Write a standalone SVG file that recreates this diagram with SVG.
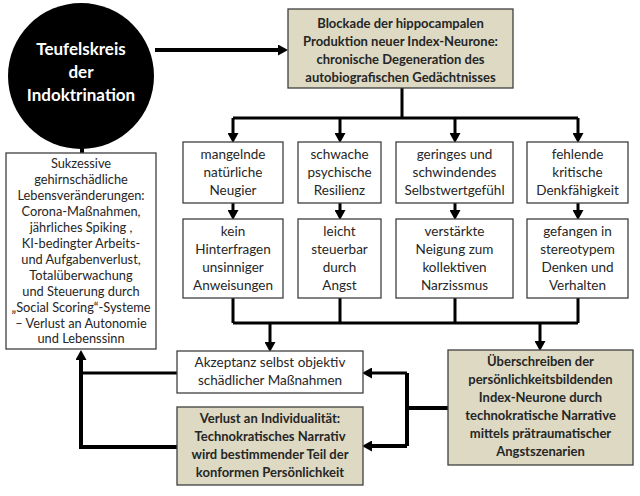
<svg xmlns="http://www.w3.org/2000/svg" width="640" height="496" viewBox="0 0 640 496">
<style>
.box{fill:#ffffff;stroke:#3f3f3f;stroke-width:1.3}
.tan{fill:#ddd9c3;stroke:#3f3f3f;stroke-width:1.3}
.t{font-family:Lato,"Liberation Sans",sans-serif;font-size:13.5px;fill:#262626;text-anchor:middle}
.s{font-size:12.8px}
.b{font-family:Lato,"Liberation Sans",sans-serif;font-size:13px;font-weight:bold;fill:#262626;text-anchor:middle}
.w{font-family:Lato,"Liberation Sans",sans-serif;font-size:17px;font-weight:bold;fill:#ffffff;text-anchor:middle}
.c{fill:none;stroke:#000;stroke-width:3}
.k{fill:none;stroke:#000;stroke-width:4}
</style>
<defs>
<marker id="ah" markerUnits="userSpaceOnUse" markerWidth="10" markerHeight="11" viewBox="0 0 10 11" refX="0" refY="5.5" orient="auto"><path d="M0,0 L10,5.5 L0,11 z" fill="#000"/></marker>
</defs>
<rect width="640" height="496" fill="#ffffff"/>
<g id="connectors">
<path class="k" d="M155,50 H278" marker-end="url(#ah)"/>
<path class="c" d="M402,88 V118 M233,118 H578"/>
<path class="c" d="M233,118 V133" marker-end="url(#ah)"/>
<path class="c" d="M340,118 V133" marker-end="url(#ah)"/>
<path class="c" d="M455,118 V133" marker-end="url(#ah)"/>
<path class="c" d="M578,118 V133" marker-end="url(#ah)"/>
<path class="c" d="M233,203 V210" marker-end="url(#ah)"/>
<path class="c" d="M340,203 V210" marker-end="url(#ah)"/>
<path class="c" d="M455,203 V210" marker-end="url(#ah)"/>
<path class="c" d="M578,203 V210" marker-end="url(#ah)"/>
<path class="c" d="M233,298 V323 M340,298 V323 M455,298 V323 M578,298 V323 M233,323 H578"/>
<path class="c" d="M270,323 V342" marker-end="url(#ah)"/>
<path class="c" d="M540,323 V341" marker-end="url(#ah)"/>
<path class="k" d="M448,408 H407 M407,373 V446"/>
<path class="c" d="M407,373 H372" marker-end="url(#ah)"/>
<path class="k" d="M407,446 H372" marker-end="url(#ah)"/>
<path class="c" d="M177,373 H81"/>
<path class="k" d="M177,447 H81 V360" marker-end="url(#ah)"/>
<path class="k" d="M82,140 V153"/>
</g>
<g id="circle">
<circle cx="81" cy="76" r="73" fill="#000"/>
<text class="w" x="81" y="55">Teufelskreis</text>
<text class="w" x="81" y="78">der</text>
<text class="w" x="81" y="101">Indoktrination</text>
</g>
<g id="blockade">
<rect class="tan" x="288" y="9" width="225" height="79"/>
<text class="b" x="400.5" y="28">Blockade der hippocampalen</text>
<text class="b" x="400.5" y="46">Produktion neuer Index-Neurone:</text>
<text class="b" x="400.5" y="64">chronische Degeneration des</text>
<text class="b" x="400.5" y="82">autobiografischen Gedächtnisses</text>
</g>
<g id="neugier">
<rect class="box" x="183" y="142" width="100" height="61"/>
<text class="t" x="233" y="159">mangelnde</text>
<text class="t" x="233" y="177">natürliche</text>
<text class="t" x="233" y="195">Neugier</text>
</g>
<g id="resilienz">
<rect class="box" x="298" y="142" width="83" height="61"/>
<text class="t" x="339.5" y="159">schwache</text>
<text class="t" x="339.5" y="177">psychische</text>
<text class="t" x="339.5" y="195">Resilienz</text>
</g>
<g id="selbstwert">
<rect class="box" x="396" y="142" width="117" height="61"/>
<text class="t" x="454.5" y="159">geringes und</text>
<text class="t" x="454.5" y="177">schwindendes</text>
<text class="t" x="454.5" y="195">Selbstwertgefühl</text>
</g>
<g id="denkfaehigkeit">
<rect class="box" x="527" y="142" width="101" height="61"/>
<text class="t" x="577.5" y="159">fehlende</text>
<text class="t" x="577.5" y="177">kritische</text>
<text class="t" x="577.5" y="195">Denkfähigkeit</text>
</g>
<g id="hinterfragen">
<rect class="box" x="183" y="219" width="100" height="79"/>
<text class="t" x="233" y="236">kein</text>
<text class="t" x="233" y="254">Hinterfragen</text>
<text class="t" x="233" y="272">unsinniger</text>
<text class="t" x="233" y="290">Anweisungen</text>
</g>
<g id="steuerbar">
<rect class="box" x="298" y="219" width="83" height="79"/>
<text class="t" x="339.5" y="236">leicht</text>
<text class="t" x="339.5" y="254">steuerbar</text>
<text class="t" x="339.5" y="272">durch</text>
<text class="t" x="339.5" y="290">Angst</text>
</g>
<g id="narzissmus">
<rect class="box" x="396" y="219" width="117" height="79"/>
<text class="t" x="454.5" y="236">verstärkte</text>
<text class="t" x="454.5" y="254">Neigung zum</text>
<text class="t" x="454.5" y="272">kollektiven</text>
<text class="t" x="454.5" y="290">Narzissmus</text>
</g>
<g id="stereotyp">
<rect class="box" x="527" y="219" width="101" height="79"/>
<text class="t" x="577.5" y="236">gefangen in</text>
<text class="t" x="577.5" y="254">stereotypem</text>
<text class="t" x="577.5" y="272">Denken und</text>
<text class="t" x="577.5" y="290">Verhalten</text>
</g>
<g id="akzeptanz">
<rect class="box" x="177" y="351" width="186" height="42"/>
<text class="t" x="270" y="367">Akzeptanz selbst objektiv</text>
<text class="t" x="270" y="385">schädlicher Maßnahmen</text>
</g>
<g id="verlust">
<rect class="tan" x="177" y="407" width="186" height="78"/>
<text class="b" x="270" y="423">Verlust an Individualität:</text>
<text class="b" x="270" y="441">Technokratisches Narrativ</text>
<text class="b" x="270" y="459">wird bestimmender Teil der</text>
<text class="b" x="270" y="477">konformen Persönlichkeit</text>
</g>
<g id="ueberschreiben">
<rect class="tan" x="448" y="350" width="185" height="115"/>
<text class="b" x="540.5" y="366">Überschreiben der</text>
<text class="b" x="540.5" y="384">persönlichkeitsbildenden</text>
<text class="b" x="540.5" y="402">Index-Neurone durch</text>
<text class="b" x="540.5" y="420">technokratische Narrative</text>
<text class="b" x="540.5" y="438">mittels prätraumatischer</text>
<text class="b" x="540.5" y="456">Angstszenarien</text>
</g>
<g id="lebensveraenderungen">
<rect class="box" x="6" y="153" width="150" height="196"/>
<text class="t s" x="81" y="168">Sukzessive</text>
<text class="t s" x="81" y="184">gehirnschädliche</text>
<text class="t s" x="81" y="200">Lebensveränderungen:</text>
<text class="t s" x="81" y="216">Corona-Maßnahmen,</text>
<text class="t s" x="81" y="232">jährliches Spiking ,</text>
<text class="t s" x="81" y="248">KI-bedingter Arbeits-</text>
<text class="t s" x="81" y="264">und Aufgabenverlust,</text>
<text class="t s" x="81" y="280">Totalüberwachung</text>
<text class="t s" x="81" y="296">und Steuerung durch</text>
<text class="t s" x="81" y="312">„Social Scoring“-Systeme</text>
<text class="t s" x="81" y="328">– Verlust an Autonomie</text>
<text class="t s" x="81" y="343">und Lebenssinn</text>
</g>
</svg>
